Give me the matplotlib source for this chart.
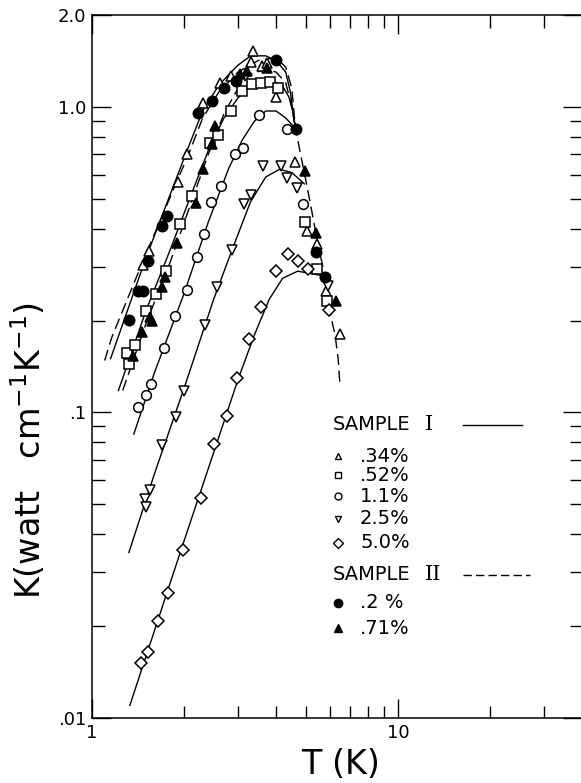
import matplotlib
matplotlib.use('Agg')
import matplotlib.pyplot as plt
from matplotlib.ticker import FixedLocator, NullFormatter

# measured thermal conductivity, T in K, K in watt/(cm K)
# sample I
t_034 = [1.47, 1.536, 1.915, 2.05, 2.30, 2.62, 2.85, 3.31, 3.37, 3.60, 3.74, 4.01, 4.61, 5.03, 5.43, 5.82, 6.46]
k_034 = [0.305, 0.337, 0.569, 0.703, 1.03, 1.20, 1.26, 1.40, 1.53, 1.36, 1.39, 1.08, 0.662, 0.394, 0.356, 0.249, 0.181]

t_052 = [1.30, 1.324, 1.38, 1.50, 1.62, 1.745, 1.94, 2.12, 2.44, 2.59, 2.84, 3.10, 3.34, 3.58, 3.82, 4.06, 4.97, 5.46, 5.85]
k_052 = [0.156, 0.144, 0.166, 0.215, 0.244, 0.291, 0.414, 0.512, 0.763, 0.81, 0.97, 1.128, 1.185, 1.20, 1.21, 1.156, 0.419, 0.295, 0.232]

t_11 = [1.41, 1.497, 1.559, 1.723, 1.867, 2.04, 2.20, 2.33, 2.45, 2.65, 2.93, 3.12, 3.52, 4.35, 4.88]
k_11 = [0.104, 0.114, 0.124, 0.162, 0.207, 0.252, 0.322, 0.384, 0.49, 0.552, 0.703, 0.733, 0.942, 0.846, 0.483]

t_25 = [1.49, 1.50, 1.547, 1.69, 1.88, 2.00, 2.34, 2.555, 2.86, 3.15, 3.32, 3.63, 4.15, 4.33, 4.67, 5.92]
k_25 = [0.0522, 0.049, 0.0556, 0.078, 0.097, 0.1175, 0.194, 0.257, 0.34, 0.481, 0.516, 0.641, 0.641, 0.587, 0.545, 0.26]

t_50 = [1.446, 1.52, 1.64, 1.776, 1.98, 2.28, 2.505, 2.755, 2.99, 3.27, 3.57, 4.01, 4.38, 4.72, 5.07, 5.97]
k_50 = [0.0151, 0.0164, 0.0208, 0.0256, 0.0356, 0.0526, 0.0786, 0.0973, 0.1297, 0.174, 0.222, 0.291, 0.33, 0.314, 0.295, 0.217]

# sample II
t_02 = [1.324, 1.417, 1.47, 1.528, 1.69, 1.76, 2.226, 2.46, 2.70, 2.955, 4.01, 4.64, 5.42, 5.78]
k_02 = [0.201, 0.25, 0.25, 0.314, 0.408, 0.44, 0.958, 1.046, 1.156, 1.22, 1.43, 0.846, 0.334, 0.278]

t_071 = [1.365, 1.46, 1.547, 1.566, 1.69, 1.73, 1.90, 2.19, 2.30, 2.46, 2.52, 3.05, 3.20, 3.72, 4.97, 5.39, 6.27]
k_071 = [0.153, 0.183, 0.205, 0.20, 0.258, 0.277, 0.36, 0.486, 0.626, 0.755, 0.867, 1.28, 1.31, 1.34, 0.618, 0.388, 0.232]

# fitted curves
ct_034 = [1.15, 1.5, 2.0, 2.3, 2.6, 3.0, 3.3, 3.7, 4.0, 4.3, 4.45, 4.55, 4.62]
ck_034 = [0.15, 0.32, 0.68, 0.97, 1.18, 1.37, 1.47, 1.47, 1.42, 1.3, 1.12, 0.95, 0.86]

ct_052 = [1.22, 1.5, 1.8, 2.1, 2.4, 2.7, 3.0, 3.3, 3.6, 3.9, 4.2, 4.4, 4.52, 4.62]
ck_052 = [0.118, 0.215, 0.34, 0.51, 0.72, 0.92, 1.07, 1.17, 1.22, 1.22, 1.17, 1.08, 0.98, 0.86]

ct_11 = [1.37, 1.6, 2.0, 2.4, 2.8, 3.1, 3.4, 3.7, 4.0, 4.3, 4.62]
ck_11 = [0.085, 0.135, 0.245, 0.42, 0.63, 0.78, 0.9, 0.97, 0.97, 0.92, 0.85]

ct_25 = [1.32, 1.6, 2.0, 2.5, 2.9, 3.3, 3.7, 4.1, 4.5, 4.95]
ck_25 = [0.0348, 0.063, 0.12, 0.235, 0.35, 0.49, 0.59, 0.625, 0.61, 0.56]

ct_50 = [1.33, 1.6, 2.0, 2.5, 3.0, 3.4, 3.8, 4.2, 4.7, 5.2, 5.7]
ck_50 = [0.011, 0.0193, 0.038, 0.074, 0.128, 0.18, 0.235, 0.275, 0.29, 0.285, 0.28]

ct_02 = [1.10, 1.16, 1.5, 2.09, 2.3, 2.6, 3.0, 3.5, 4.0, 4.3, 4.5, 4.62,
         4.78, 5.03, 5.29, 5.49, 5.78, 5.95, 6.23, 6.38, 6.46]
ck_02 = [0.148, 0.176, 0.33, 0.718, 0.92, 1.12, 1.3, 1.42, 1.45, 1.35, 1.15, 0.86,
         0.72, 0.56, 0.43, 0.35, 0.28, 0.22, 0.18, 0.15, 0.125]

ct_071 = [1.26, 1.5, 1.8, 2.1, 2.4, 2.7, 3.0, 3.3, 3.7, 4.0, 4.3, 4.5, 4.62]
ck_071 = [0.118, 0.195, 0.31, 0.48, 0.70, 0.95, 1.15, 1.28, 1.33, 1.30, 1.2, 1.0, 0.86]

plt.rcParams['font.family'] = ['DejaVu Sans']

fig = plt.figure(figsize=(5.81, 7.83), dpi=100)
ax = fig.add_axes([92 / 581, 65 / 783, 490 / 581, 703 / 783])
ax.set_xscale('log')
ax.set_yscale('log')

lw = 1.0
dash = (8, 4)
ax.plot(ct_034, ck_034, '-', color='k', lw=lw)
ax.plot(ct_052, ck_052, '-', color='k', lw=lw)
ax.plot(ct_11, ck_11, '-', color='k', lw=lw)
ax.plot(ct_25, ck_25, '-', color='k', lw=lw)
ax.plot(ct_50, ck_50, '-', color='k', lw=lw)
ax.plot(ct_02, ck_02, '--', color='k', lw=lw, dashes=dash)
ax.plot(ct_071, ck_071, '--', color='k', lw=lw, dashes=dash)

mk = dict(ls='none', mec='k', mew=1.1, color='k')
ax.plot(t_034, k_034, marker='^', ms=7.5, mfc='white', **mk)
ax.plot(t_052, k_052, marker='s', ms=6.5, mfc='white', **mk)
ax.plot(t_11, k_11, marker='o', ms=7, mfc='white', **mk)
ax.plot(t_25, k_25, marker='v', ms=7.5, mfc='white', **mk)
ax.plot(t_50, k_50, marker='D', ms=6, mfc='white', **mk)
ax.plot(t_02, k_02, marker='o', ms=7.5, mfc='k', **mk)
ax.plot(t_071, k_071, marker='^', ms=7.5, mfc='k', **mk)

ax.set_xlim(1, 40)
ax.set_ylim(0.01, 2.0)

ax.xaxis.set_major_locator(FixedLocator([1, 10]))
ax.xaxis.set_minor_locator(FixedLocator([2, 3, 4, 5, 6, 7, 8, 9, 20, 30]))
ax.set_xticklabels(['1', '10'])
ax.xaxis.set_minor_formatter(NullFormatter())
ax.yaxis.set_major_locator(FixedLocator([0.01, 0.1, 1.0, 2.0]))
ax.set_yticklabels(['.01', '.1', '1.0', '2.0'])
ax.yaxis.set_minor_formatter(NullFormatter())

ax.tick_params(which='both', direction='in', top=True, right=True, width=1.0)
ax.tick_params(which='major', length=14, labelsize=13, pad=4)
ax.tick_params(which='minor', length=9)
for s in ax.spines.values():
    s.set_linewidth(1.1)

fig.text(341 / 581, 1 - 765 / 783, 'T (K)', fontsize=24, ha='center', va='center')
fig.text(29 / 581, 1 - 450 / 783, r'K(watt   cm$^{-1}$K$^{-1}$)', fontsize=24,
         rotation=90, ha='center', va='center')

# legend drawn by hand, as in the original
def fx(x):
    return x / 581

def fy(y):
    return 1 - y / 783

fig.text(fx(333), fy(425), 'SAMPLE', fontsize=14, va='center')
fig.text(fx(425), fy(425), 'I', fontsize=15, va='center', family='DejaVu Serif')
fig.lines.append(plt.Line2D([fx(463), fx(522)], [fy(425), fy(425)], color='k', lw=lw,
                            transform=fig.transFigure))
rows = [('^', '.34%', 456), ('s', '.52%', 475), ('o', '1.1%', 496),
        ('v', '2.5%', 519), ('D', '5.0%', 543)]
for m, lab, y in rows:
    fig.lines.append(plt.Line2D([fx(338)], [fy(y)], marker=m, ms=5, mfc='white', mec='k', mew=1.0,
                                transform=fig.transFigure))
    fig.text(fx(360), fy(y), lab, fontsize=14, va='center')

fig.text(fx(333), fy(575), 'SAMPLE', fontsize=14, va='center')
fig.text(fx(425), fy(575), 'II', fontsize=15, va='center', family='DejaVu Serif')
fig.lines.append(plt.Line2D([fx(463), fx(530)], [fy(575), fy(575)], color='k', lw=lw,
                            ls='--', dashes=(6, 3), transform=fig.transFigure))
rows2 = [('o', '.2 %', 603), ('^', '.71%', 628)]
for m, lab, y in rows2:
    fig.lines.append(plt.Line2D([fx(338)], [fy(y)], marker=m, ms=6, mfc='k', mec='k',
                                transform=fig.transFigure))
    fig.text(fx(360), fy(y), lab, fontsize=14, va='center')

fig.savefig('out.png', dpi=100)
